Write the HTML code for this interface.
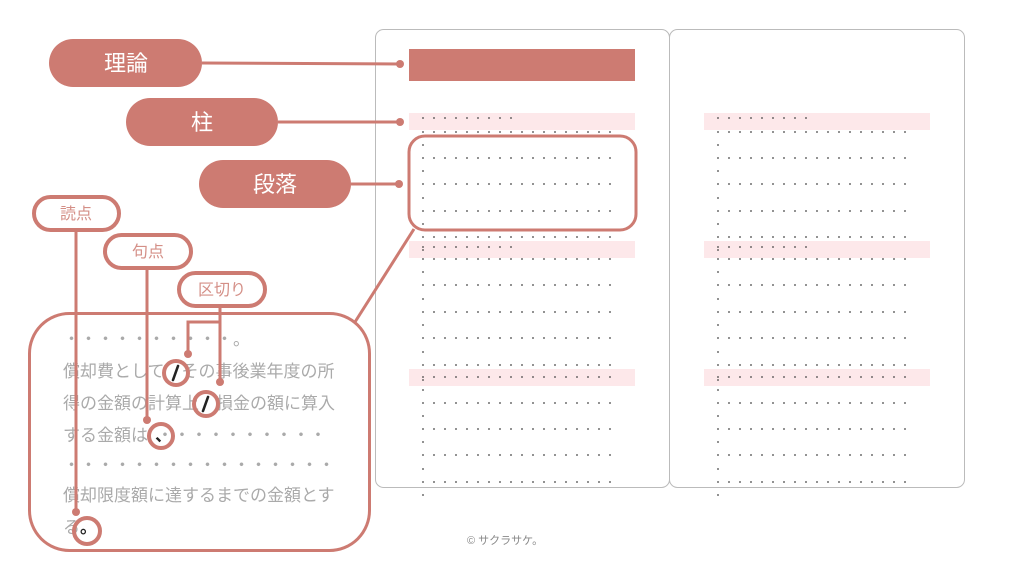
<!DOCTYPE html>
<html><head><meta charset="utf-8"><style>
html,body{margin:0;padding:0;background:#fff;}
svg{display:block;}
text{font-family:"Liberation Sans","Noto Sans CJK JP",sans-serif;}
</style></head><body>
<svg width="1024" height="567" viewBox="0 0 1024 567" xmlns="http://www.w3.org/2000/svg">
<rect x="375.5" y="29.5" width="294" height="458" rx="8" fill="#fff" stroke="#bbb" stroke-width="1"/>
<rect x="669.5" y="29.5" width="295" height="458" rx="8" fill="#fff" stroke="#bbb" stroke-width="1"/>
<rect x="409" y="49" width="226" height="32" fill="#cd7b72"/>
<g fill="#fde8ea">
<rect x="409" y="113" width="226" height="17"/><rect x="409" y="241" width="226" height="17"/><rect x="409" y="369" width="226" height="17"/>
<rect x="704" y="113" width="226" height="17"/><rect x="704" y="241" width="226" height="17"/><rect x="704" y="369" width="226" height="17"/>
</g>
<g id="dots" stroke="#444" stroke-width="1.8" stroke-linecap="round" stroke-dasharray="0 11">
<line x1="423" x2="513" y1="118" y2="118"/>
<line x1="423" x2="612" y1="132" y2="132"/>
<line x1="423" x2="424" y1="145" y2="145"/>
<line x1="423" x2="612" y1="158" y2="158"/>
<line x1="423" x2="424" y1="171" y2="171"/>
<line x1="423" x2="612" y1="184" y2="184"/>
<line x1="423" x2="424" y1="198" y2="198"/>
<line x1="423" x2="612" y1="211" y2="211"/>
<line x1="423" x2="424" y1="224" y2="224"/>
<line x1="423" x2="612" y1="237" y2="237"/>
<line x1="423" x2="513" y1="247" y2="247"/>
<line x1="423" x2="424" y1="250" y2="250"/>
<line x1="423" x2="612" y1="259" y2="259"/>
<line x1="423" x2="424" y1="272" y2="272"/>
<line x1="423" x2="612" y1="285" y2="285"/>
<line x1="423" x2="424" y1="299" y2="299"/>
<line x1="423" x2="612" y1="312" y2="312"/>
<line x1="423" x2="424" y1="325" y2="325"/>
<line x1="423" x2="612" y1="338" y2="338"/>
<line x1="423" x2="424" y1="352" y2="352"/>
<line x1="423" x2="612" y1="365" y2="365"/>
<line x1="423" x2="612" y1="377" y2="377"/>
<line x1="423" x2="424" y1="380" y2="380"/>
<line x1="423" x2="424" y1="390" y2="390"/>
<line x1="423" x2="612" y1="403" y2="403"/>
<line x1="423" x2="424" y1="416" y2="416"/>
<line x1="423" x2="612" y1="429" y2="429"/>
<line x1="423" x2="424" y1="442" y2="442"/>
<line x1="423" x2="612" y1="455" y2="455"/>
<line x1="423" x2="424" y1="469" y2="469"/>
<line x1="423" x2="612" y1="482" y2="482"/>
<line x1="423" x2="424" y1="495" y2="495"/>
</g>
<use href="#dots" x="295"/>
<rect x="409" y="136" width="227" height="94" rx="16" fill="none" stroke="#cd7b72" stroke-width="3"/>
<line x1="414" y1="229" x2="355" y2="322" stroke="#cd7b72" stroke-width="3"/>
<g fill="#cd7b72">
<rect x="49" y="39" width="153" height="48" rx="24"/>
<rect x="126" y="98" width="152" height="48" rx="24"/>
<rect x="199" y="160" width="152" height="48" rx="24"/>
</g>
<g fill="#fff" font-size="22" text-anchor="middle">
<text x="126" y="71">理論</text>
<text x="202" y="130">柱</text>
<text x="275" y="192">段落</text>
</g>
<g stroke="#cd7b72" stroke-width="3" fill="none">
<line x1="202" y1="63" x2="400" y2="64"/>
<line x1="278" y1="122" x2="400" y2="122"/>
<line x1="351" y1="184" x2="399" y2="184"/>
</g>
<g fill="#cd7b72">
<circle cx="400" cy="64" r="4"/><circle cx="400" cy="122" r="4"/><circle cx="399" cy="184" r="4"/>
</g>
<g fill="#fff" stroke="#cd7b72" stroke-width="4">
<rect x="34" y="197" width="85" height="33" rx="16.5"/>
<rect x="105" y="235" width="86" height="33" rx="16.5"/>
<rect x="179" y="273" width="86" height="33" rx="16.5"/>
</g>
<g fill="#d48f87" font-size="16" text-anchor="middle">
<text x="76" y="219">読点</text>
<text x="148" y="257">句点</text>
<text x="222" y="295">区切り</text>
</g>
<rect x="29.5" y="313.5" width="340" height="237" rx="40" fill="#fff" stroke="#cd7b72" stroke-width="3"/>
<g fill="#aaa" font-size="17">
<text x="63" y="345">・・・・・・・・・・。</text>
<text x="63" y="377">償却費として　その事後業年度の所</text>
<text x="63" y="409">得の金額の計算上　損金の額に算入</text>
<text x="63" y="441">する金額は<tspan fill="#222" font-weight="bold" dx="7">、</tspan><tspan dx="-7">・・・・・・・・・・</tspan></text>
<text x="63" y="471">・・・・・・・・・・・・・・・・</text>
<text x="63" y="501">償却限度額に達するまでの金額とす</text>
<text x="63" y="533">る<tspan fill="#222" font-weight="bold" dx="0">。</tspan></text>
</g>
<g stroke="#222" stroke-width="2.6" stroke-linecap="round">
<line x1="173" y1="380" x2="178" y2="366"/>
<line x1="203" y1="411" x2="208" y2="397"/>
</g>
<g fill="none" stroke="#cd7b72" stroke-width="4">
<circle cx="176" cy="373" r="12"/>
<circle cx="206" cy="404" r="12"/>
<circle cx="161" cy="436" r="12"/>
<circle cx="87" cy="531" r="13"/>
</g>
<g fill="none" stroke="#cd7b72" stroke-width="3">
<line x1="76" y1="230" x2="76" y2="512"/>
<line x1="147" y1="268" x2="147" y2="420"/>
<polyline points="220,306 220,382"/>
<polyline points="220,322 188,322 188,354"/>
</g>
<g fill="#cd7b72">
<circle cx="76" cy="512" r="4"/><circle cx="147" cy="420" r="4"/><circle cx="220" cy="382" r="4"/><circle cx="188" cy="354" r="4"/>
</g>
<text x="467" y="544" font-size="11" fill="#888">© サクラサケ。</text>
</svg>
</body></html>
